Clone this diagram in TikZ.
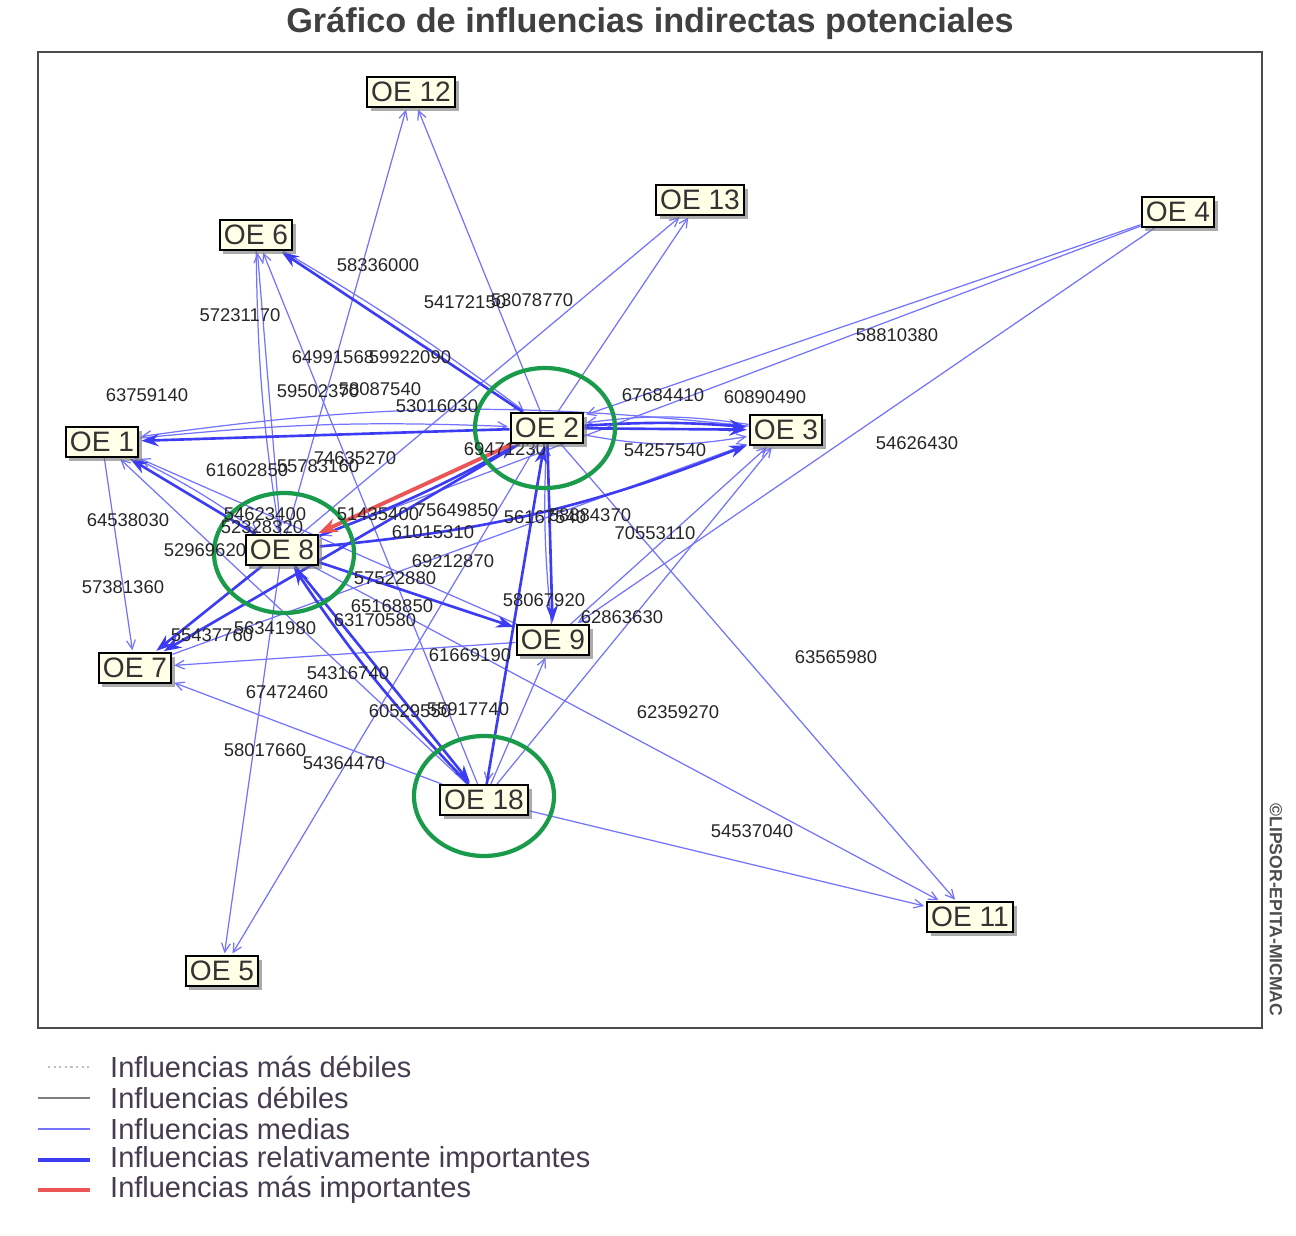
\documentclass[tikz,border=0pt]{standalone}
\usepackage{fontspec}
\setmainfont{Liberation Sans}
\usetikzlibrary{arrows.meta, shadows, backgrounds}

\definecolor{boxfill}{RGB}{255,255,232}
\definecolor{medblue}{RGB}{115,115,255}
\definecolor{relblue}{RGB}{60,60,245}
\definecolor{topred}{RGB}{235,85,85}
\definecolor{ringgreen}{RGB}{25,155,75}
\definecolor{legtext}{RGB}{70,60,80}

\begin{document}
\begin{tikzpicture}[
  x=0.02cm, y=-0.02cm,
  font=\fontsize{10.5}{12}\selectfont,
  oe/.style={rectangle, draw=black, line width=1.2pt, fill=boxfill,
             inner xsep=2.5pt, inner ysep=1pt, minimum height=17pt,
             font=\fontsize{16}{18}\selectfont, text=black!80,
             drop shadow={shadow xshift=2.2pt, shadow yshift=-2.2pt, fill=black!55, opacity=.6}},
  med/.style={-{Straight Barb[length=5pt,width=5pt]}, line width=.7pt, draw=medblue, shorten >=1pt},
  rel/.style={-{Stealth[length=10pt,width=7pt]}, line width=1.5pt, draw=relblue, shorten >=1pt},
  maxinf/.style={-{Stealth[length=11pt,width=8pt]}, line width=2.2pt, draw=topred, shorten >=1pt},
  ring/.style={draw=ringgreen, line width=2.4pt},
  val/.style={inner sep=0pt, text=black!85},
  leg/.style={anchor=west, text=legtext, font=\fontsize{16.5}{18}\selectfont},
]
\useasboundingbox (0,0) rectangle (1296,1236);

% --- titulo ---
\node[font=\fontsize{19.5}{21}\selectfont\bfseries, text=black!75] (title) at (650,23)
      {Gráfico de influencias indirectas potenciales};
\node[rotate=-90, font=\fontsize{10}{12}\selectfont\bfseries, text=black!70] (mark) at (1276,910)
      {©LIPSOR-EPITA-MICMAC};

% --- valores ---
\foreach \vx/\vy/\vt [count=\i] in {
  378/265/58336000, 240/315/57231170, 465/302/54172150, 532/300/53078770,
  333/357/64991568, 410/357/59922090, 147/395/63759140, 318/391/59502370,
  380/389/58087540, 437/406/53016030, 663/395/67684410, 765/397/60890490,
  897/335/58810380, 917/443/54626430, 665/450/54257540, 505/449/69471230,
  247/470/61602850, 318/466/55783160, 355/458/74635270, 128/520/64538030,
  265/514/54623400, 262/527/52328320, 378/514/51435400, 457/510/75649850,
  433/532/61015310, 205/550/52969620, 545/517/56167540, 590/515/58884370,
  655/533/70553110, 453/561/69212870, 123/587/57381360, 395/578/57522880,
  544/600/58067920, 392/606/65168850, 622/617/62863630, 375/620/63170580,
  212/635/55437760, 275/628/56341980, 470/655/61669190, 836/657/63565980,
  348/673/54316740, 287/692/67472460, 410/711/60529550, 468/709/55917740,
  678/712/62359270, 265/750/58017660, 344/763/54364470, 752/831/54537040}
  \node[val] (val\i) at (\vx,\vy) {\vt};

% --- objetivos ---
\node[oe] (oe12) at (411,92)  {OE 12};
\node[oe] (oe6)  at (256,235) {OE 6};
\node[oe] (oe13) at (700,200) {OE 13};
\node[oe] (oe4)  at (1178,212) {OE 4};
\node[oe] (oe1)  at (102,442) {OE 1};
\node[oe] (oe2)  at (547,428) {OE 2};
\node[oe] (oe3)  at (786,430) {OE 3};
\node[oe] (oe8)  at (282,550) {OE 8};
\node[oe] (oe9)  at (553,640) {OE 9};
\node[oe] (oe7)  at (135,668) {OE 7};
\node[oe] (oe18) at (484,800) {OE 18};
\node[oe] (oe11) at (970,917) {OE 11};
\node[oe] (oe5)  at (222,971) {OE 5};

\begin{pgfonlayer}{background}
\draw[black!70, line width=1.4pt] (38,52) rectangle (1262,1028);

% --- influencias medias ---
\foreach \a/\b in {oe8/oe12, oe2/oe12, oe2/oe13, oe8/oe13, oe4/oe2, oe4/oe8, oe4/oe9,
                   oe2/oe11, oe8/oe11, oe18/oe11, oe2/oe5, oe8/oe5, oe8/oe6, oe18/oe6,
                   oe1/oe7, oe9/oe1, oe18/oe1, oe9/oe7, oe18/oe7, oe7/oe3, oe9/oe3,
                   oe18/oe3, oe18/oe9, oe2/oe18}
  \draw[med] (\a) -- (\b);
\draw[med] (oe1) to[bend left=4] (oe2);
\draw[med] (oe3) to[bend right=7] (oe1);
\draw[med] (oe3) to[bend right=8] (oe2);
\draw[med] (oe2) to[bend right=10] (oe3);
\draw[med] (oe6) to[bend left=3] (oe2);
\draw[med] (oe1) to[bend left=5] (oe8);
\draw[med] (oe9) to[bend left=4] (oe2);
\draw[med] (oe6) to[bend right=4] (oe8);

% --- influencias relativamente importantes ---
\foreach \a/\b in {oe2/oe1, oe2/oe6, oe2/oe3, oe8/oe1, oe8/oe7, oe2/oe7,
                   oe8/oe9, oe2/oe9, oe18/oe2, oe8/oe18}
  \draw[rel] (\a) -- (\b);
\draw[rel] (oe2) to[bend left=4] (oe3);
\draw[rel] (oe18) to[bend left=5] (oe8);
\draw[rel] (oe8) to[bend right=4] (oe2);
\draw[rel] (oe8) to[bend right=8] (oe3);

% --- influencia mas importante ---
\draw[maxinf] (oe2) -- (oe8);

% --- circulos ---
\draw[ring] (545,428) ellipse [x radius=1.4cm, y radius=1.2cm];
\draw[ring] (284,553) ellipse [x radius=1.4cm, y radius=1.2cm];
\draw[ring] (484,796) ellipse [x radius=1.4cm, y radius=1.2cm];
\end{pgfonlayer}

% --- leyenda ---
\draw[black!25, dotted, line width=1.2pt] (48,1067) -- (90,1067);
\draw[black!50, line width=1.2pt] (38,1098) -- (90,1098);
\draw[medblue, line width=.9pt] (38,1129) -- (90,1129);
\draw[relblue, line width=1.8pt] (38,1160) -- (90,1160);
\draw[topred, line width=1.8pt] (38,1190) -- (90,1190);
\node[leg] (l1) at (104,1067) {Influencias más débiles};
\node[leg] (l2) at (104,1098) {Influencias débiles};
\node[leg] (l3) at (104,1129) {Influencias medias};
\node[leg] (l4) at (104,1160) {Influencias relativamente importantes};
\node[leg] (l5) at (104,1190) {Influencias más importantes};
\end{tikzpicture}
\end{document}
